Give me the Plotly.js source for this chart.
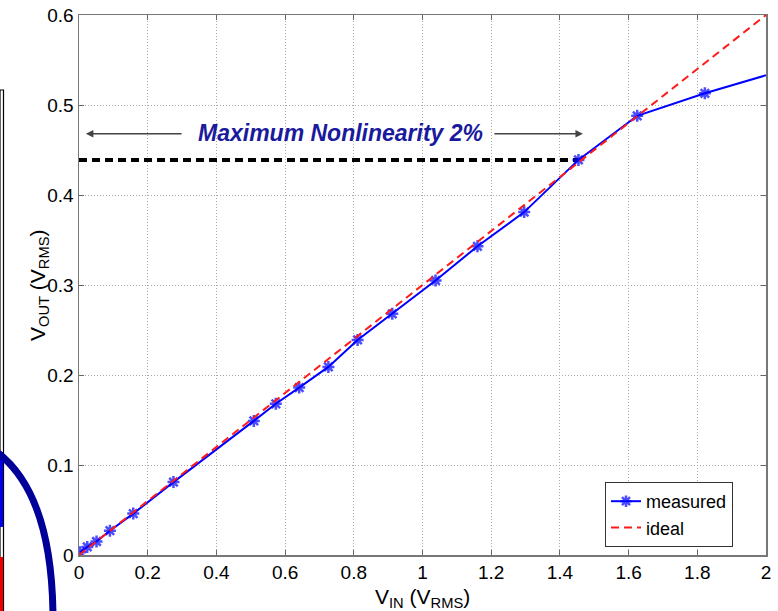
<!DOCTYPE html>
<html>
<head>
<meta charset="utf-8">
<script src="https://cdn.plot.ly/plotly-3.0.1.min.js"></script>
<style>html,body{margin:0;padding:0;background:#fff;}#chart{width:778px;height:611px;}</style>
</head>
<body>
<div id="chart"></div>
<script>
// measured data
const measuredX = [0.003,0.024,0.051,0.09,0.158,0.275,0.509,0.573,0.641,0.726,0.811,0.912,1.038,1.16,1.296,1.454,1.625,1.822,2.0];
const measuredY = [0.003,0.009,0.015,0.027,0.046,0.081,0.149,0.168,0.186,0.209,0.239,0.268,0.305,0.343,0.381,0.439,0.488,0.513,0.533];
// ideal line
const idealX = [0, 2];
const idealY = [0, 0.6];
// maximum nonlinearity marker line
const nonlinX = [0, 1.454];
const nonlinY = [0.439, 0.439];
const annotText = 'Maximum Nonlinearity 2%';
const xTitle = 'V<sub>IN</sub> (V<sub>RMS</sub>)';
const yTitle = 'V<sub>OUT</sub> (V<sub>RMS</sub>)';

const markerSizes = measuredX.map((v, i) => i === measuredX.length - 1 ? 0 : 10);

const traces = [
  {x: nonlinX, y: nonlinY, mode: 'lines', showlegend: false, hoverinfo: 'skip',
   line: {color: '#000', width: 4, dash: '8px,5px'}},
  {x: measuredX, y: measuredY, name: 'measured', mode: 'lines+markers',
   line: {color: '#0000ff', width: 2},
   marker: {symbol: 'asterisk-open', size: markerSizes, color: '#0000ff', line: {color: '#0000ff', width: 2.5}}},
  {x: idealX, y: idealY, name: 'ideal', mode: 'lines',
   line: {color: '#ff1a1a', width: 2, dash: '8px,5px'}}
];

const px2paperX = p => (p - 79) / 687;
const px2paperY = p => (555 - p) / 540;
const FONT = 'Liberation Sans, Arial, sans-serif';

const layout = {
  width: 778, height: 611,
  margin: {l: 79, r: 12, t: 15, b: 56},
  paper_bgcolor: '#fff', plot_bgcolor: '#fff',
  font: {family: FONT, size: 19, color: '#000'},
  showlegend: true,
  legend: {x: px2paperX(733), y: px2paperY(547), xanchor: 'right', yanchor: 'bottom',
    bgcolor: '#fff', bordercolor: '#333', borderwidth: 1, font: {size: 18}, tracegroupgap: 0},
  xaxis: {range: [0, 2], dtick: 0.2, tick0: 0, ticks: 'inside', ticklen: 5, tickcolor: '#666',
    showline: true, linecolor: '#777', linewidth: 1.5, mirror: 'allticks',
    showgrid: true, gridcolor: '#aaa', griddash: '1px,2px', gridwidth: 1, zeroline: false,
    tickfont: {size: 19}},
  yaxis: {range: [0, 0.6], dtick: 0.1, tick0: 0, ticks: 'inside', ticklen: 5, tickcolor: '#666',
    showline: true, linecolor: '#777', linewidth: 1.5, mirror: 'allticks',
    showgrid: true, gridcolor: '#aaa', griddash: '1px,2px', gridwidth: 1, zeroline: false,
    tickfont: {size: 19}},
  annotations: [
    {x: 0.5, y: px2paperY(598), xref: 'paper', yref: 'paper', text: xTitle, showarrow: false,
     xanchor: 'center', yanchor: 'middle', font: {size: 21, family: FONT, color: '#000'}},
    {x: px2paperX(39), y: 0.5, xref: 'paper', yref: 'paper', text: yTitle, showarrow: false,
     textangle: -90, xanchor: 'center', yanchor: 'middle', font: {size: 21, family: FONT, color: '#000'}},
    {x: 0.76, y: 0.4685, xref: 'x', yref: 'y', text: '<b><i>' + annotText + '</i></b>', showarrow: false,
     font: {size: 23, color: '#1a1a9c', family: FONT}},
    {x: 0.02, y: 0.468, ax: 0.303, ay: 0.468, xref: 'x', yref: 'y', axref: 'x', ayref: 'y', text: '',
     showarrow: true, arrowhead: 2, arrowsize: 1, arrowwidth: 1.5, arrowcolor: '#444'},
    {x: 1.467, y: 0.468, ax: 1.205, ay: 0.468, xref: 'x', yref: 'y', axref: 'x', ayref: 'y', text: '',
     showarrow: true, arrowhead: 2, arrowsize: 1, arrowwidth: 1.5, arrowcolor: '#444'}
  ],
  shapes: [
    // left strip (page fragment)
    {type: 'rect', xref: 'paper', yref: 'paper', x0: px2paperX(0), x1: px2paperX(3.5), y0: px2paperY(90), y1: px2paperY(620),
     line: {color: '#000', width: 1.2}, fillcolor: '#fff', layer: 'above'},
    {type: 'rect', xref: 'paper', yref: 'paper', x0: px2paperX(0), x1: px2paperX(3), y0: px2paperY(452), y1: px2paperY(527),
     line: {width: 0}, fillcolor: '#0000ee', layer: 'above'},
    {type: 'rect', xref: 'paper', yref: 'paper', x0: px2paperX(0), x1: px2paperX(3), y0: px2paperY(557), y1: px2paperY(620),
     line: {width: 0}, fillcolor: '#ee0000', layer: 'above'},
    // navy arc
    {type: 'path', xref: 'paper', yref: 'paper',
     path: 'M ' + px2paperX(-6) + ' ' + px2paperY(450) + ' Q ' + px2paperX(54) + ' ' + px2paperY(492) + ' ' + px2paperX(53) + ' ' + px2paperY(625),
     line: {color: '#000099', width: 7}, layer: 'above'}
  ]
};

Plotly.newPlot('chart', traces, layout, {displayModeBar: false, staticPlot: true});
</script>
</body>
</html>
